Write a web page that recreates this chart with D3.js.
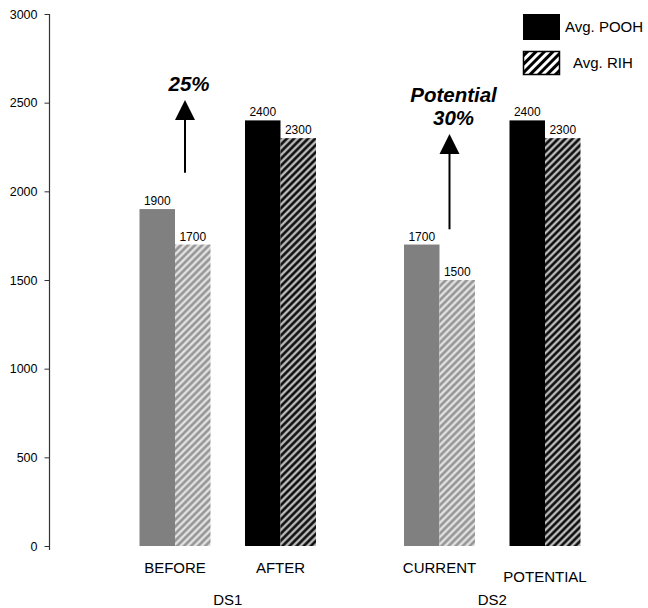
<!DOCTYPE html>
<html><head><meta charset="utf-8">
<script src="https://cdn.jsdelivr.net/npm/d3@7"></script>
<style>
body{margin:0;background:#fff}
svg{display:block;font-family:"Liberation Sans",Arial,Helvetica,sans-serif}
</style></head><body>
<svg id="chart" width="648" height="608"></svg>
<script>
// Trip speeds per drill string, before/after and current/potential
const groups = ["DS1", "DS2"];
const categories = ["BEFORE", "AFTER", "CURRENT", "POTENTIAL"];
const categoryGroup = ["DS1", "DS1", "DS2", "DS2"];
const series = ["Avg. POOH", "Avg. RIH"];
const poohValues = [1900, 2400, 1700, 2400];
const rihValues = [1700, 2300, 1500, 2300];
const yTicks = [0, 500, 1000, 1500, 2000, 2500, 3000];
// improvement arrows: value where the arrow starts and where its head points
const gains = [
  { category: "BEFORE", from: 2105, to: 2515, lines: ["25%"] },
  { category: "CURRENT", from: 1786, to: 2323, lines: ["Potential", "30%"] }
];

const svg = d3.select("#chart");
const defs = svg.append("defs");

// soft diagonal stripes for the bars
function softHatch(id, ink) {
  const gid = id + "-grad";
  const g = defs.append("linearGradient").attr("id", gid)
    .attr("x1", 0).attr("x2", 1).attr("y1", 0).attr("y2", 0);
  g.append("stop").attr("offset", 0).attr("stop-color", "#fff");
  g.append("stop").attr("offset", 0.38).attr("stop-color", ink);
  g.append("stop").attr("offset", 0.62).attr("stop-color", ink);
  g.append("stop").attr("offset", 1).attr("stop-color", "#fff");
  const p = defs.append("pattern").attr("id", id)
    .attr("patternUnits", "userSpaceOnUse")
    .attr("width", 5).attr("height", 5)
    .attr("patternTransform", "rotate(45)");
  p.append("rect").attr("width", 5).attr("height", 5).attr("fill", `url(#${gid})`);
}
softHatch("hatch-gray", "#909090");
softHatch("hatch-black", "#000");

// crisp stripes for the legend swatch
const lp = defs.append("pattern").attr("id", "hatch-legend")
  .attr("patternUnits", "userSpaceOnUse")
  .attr("width", 6).attr("height", 6)
  .attr("patternTransform", "rotate(45)");
lp.append("rect").attr("width", 6).attr("height", 6).attr("fill", "#fff");
lp.append("rect").attr("width", 3).attr("height", 6).attr("fill", "#000");

const y = d3.scaleLinear().domain([0, 3000]).range([546, 14]);
const x0 = d3.scaleBand().domain(groups).range([95.5, 624.5]);
const x1 = d3.scalePoint().domain([0, 1]).range([79.5, 185]);
const xs = d3.scaleBand().domain(series).range([-35.5, 35.5]);

const inGroup = categories.map((c, i) =>
  categories.filter((d, j) => j < i && categoryGroup[j] === categoryGroup[i]).length);
const cx = i => x0(categoryGroup[i]) + x1(inGroup[i]);

// y axis
const axis = svg.append("g")
  .attr("transform", "translate(49.5,0)")
  .call(d3.axisLeft(y).tickValues(yTicks).tickFormat(d3.format("d"))
    .tickSize(5).tickPadding(7).tickSizeOuter(0));
axis.select(".domain").attr("stroke", "#333").attr("stroke-width", 1.2)
  .attr("d", `M0,${y(3000)}V${y(0) + 4}`);
axis.selectAll(".tick line").attr("stroke", "#333");
axis.selectAll(".tick text").attr("fill", "#000")
  .style("font-size", "12.5px").style("font-family", "'Liberation Sans',Arial,sans-serif");

// bars
const rows = categories.map((c, i) => ({ i, c, vals: [poohValues[i], rihValues[i]] }));
const cat = svg.append("g").selectAll("g").data(rows).join("g")
  .attr("transform", d => `translate(${cx(d.i)},0)`);

cat.selectAll("rect").data(d => d.vals.map((v, k) => ({ v, k, tone: inGroup[d.i] === 0 ? "gray" : "black" })))
  .join("rect")
  .attr("x", d => xs(series[d.k]))
  .attr("width", xs.bandwidth())
  .attr("y", d => y(d.v))
  .attr("height", d => y(0) - y(d.v))
  .attr("fill", d => d.k === 0 ? (d.tone === "gray" ? "#808080" : "#000")
                               : `url(#hatch-${d.tone})`);

cat.selectAll("text.val").data(d => d.vals.map((v, k) => ({ v, k })))
  .join("text").attr("class", "val")
  .attr("x", d => xs(series[d.k]) + xs.bandwidth() / 2)
  .attr("y", d => y(d.v) - 4)
  .attr("text-anchor", "middle")
  .style("font-size", "12px")
  .text(d => d.v);

// category labels
svg.append("g").selectAll("text").data(categories).join("text")
  .attr("x", (d, i) => cx(i))
  .attr("y", (d, i) => 573 + (i === categories.length - 1 ? 9 : 0))
  .attr("text-anchor", "middle")
  .style("font-size", "15px")
  .text(d => d);

// group labels
svg.append("g").selectAll("text").data(groups).join("text")
  .attr("x", d => x0(d) + x0.bandwidth() / 2)
  .attr("y", 605)
  .attr("text-anchor", "middle")
  .style("font-size", "15px")
  .text(d => d);

// improvement arrows
gains.forEach(gn => {
  const i = categories.indexOf(gn.category);
  const ax = cx(i) + 10;
  const tip = y(gn.to), base = tip + 20;
  svg.append("line").attr("x1", ax).attr("x2", ax)
    .attr("y1", y(gn.from)).attr("y2", base - 1)
    .attr("stroke", "#000").attr("stroke-width", 2);
  svg.append("path")
    .attr("d", `M${ax},${tip}L${ax + 10},${base}L${ax - 10},${base}Z`)
    .attr("fill", "#000");
  const n = gn.lines.length;
  gn.lines.forEach((t, k) => {
    svg.append("text")
      .attr("x", ax + 4)
      .attr("y", tip - 9 - (n - 1 - k) * 23)
      .attr("text-anchor", "middle")
      .style("font-size", "20.5px").style("font-weight", "bold").style("font-style", "italic")
      .text(t);
  });
});

// legend
const legend = svg.append("g");
legend.append("rect").attr("x", 523).attr("y", 14).attr("width", 37).attr("height", 26).attr("fill", "#000");
legend.append("rect").attr("x", 523.5).attr("y", 51.5).attr("width", 36).attr("height", 23)
  .attr("fill", "url(#hatch-legend)").attr("stroke", "#000").attr("stroke-width", 1.5);
legend.append("text").attr("x", 565).attr("y", 31.5).style("font-size", "15px").text(series[0]);
legend.append("text").attr("x", 573).attr("y", 68).style("font-size", "15px").text(series[1]);
</script>
</body></html>
